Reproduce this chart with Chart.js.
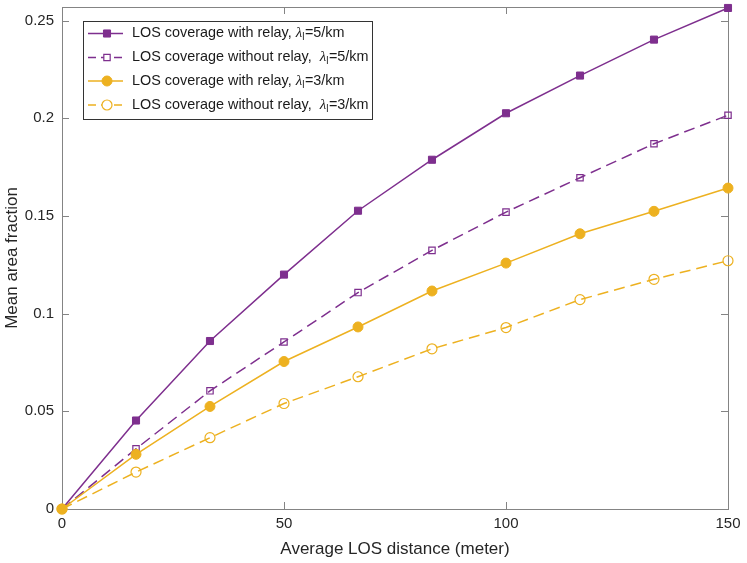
<!DOCTYPE html>
<html>
<head>
<meta charset="utf-8">
<script src="https://cdn.jsdelivr.net/npm/chart.js@4.4.1/dist/chart.umd.min.js"></script>
<style>
  html, body { margin: 0; padding: 0; background: #fff; }
</style>
</head>
<body>
<canvas id="myChart" width="747" height="563"></canvas>
<script>
// values
const distances = [0, 16.67, 33.33, 50, 66.67, 83.33, 100, 116.67, 133.33, 150]
const withRelay5 = [0, 0.0453, 0.0860, 0.1200, 0.1527, 0.1788, 0.2026, 0.2219, 0.2403, 0.2565]
const withoutRelay5 = [0, 0.0308, 0.0605, 0.0855, 0.1108, 0.1324, 0.1520, 0.1696, 0.1870, 0.2016]
const withRelay3 = [0, 0.0280, 0.0525, 0.0755, 0.0932, 0.1116, 0.1259, 0.1409, 0.1524, 0.1643]
const withoutRelay3 = [0, 0.0189, 0.0365, 0.0540, 0.0677, 0.0820, 0.0929, 0.1072, 0.1176, 0.1271]

const legendPrefix = ['LOS coverage with relay, ', 'LOS coverage without relay,  ', 'LOS coverage with relay, ', 'LOS coverage without relay,  ']
const legendSuffix = ['=5/km', '=5/km', '=3/km', '=3/km']
const xTicks = [0, 50, 100, 150]
const yTicks = [0, 0.05, 0.1, 0.15, 0.2, 0.25]

const purple = '#7E2F8E'
const orange = '#EDB120'
const font = "'Liberation Sans', Arial, Helvetica, sans-serif"

function toPoints(arr) {
    return arr.map((v, i) => ({ x: distances[i], y: v }))
}

const styles = [
    { color: purple, shape: 'rect', filled: true, dash: [], r: 5 },
    { color: purple, shape: 'rect', filled: false, dash: [11, 6], r: 4.5 },
    { color: orange, shape: 'circle', filled: true, dash: [], r: 5 },
    { color: orange, shape: 'circle', filled: false, dash: [11, 6], r: 5 }
]
const seriesData = [withRelay5, withoutRelay5, withRelay3, withoutRelay3]

const datasets = seriesData.map((d, i) => {
    const s = styles[i]
    return {
        label: legendPrefix[i] + 'λl' + legendSuffix[i],
        data: toPoints(d),
        borderColor: s.color,
        backgroundColor: s.color,
        borderWidth: 1.5,
        borderDash: s.dash,
        pointStyle: s.shape,
        pointRadius: s.r,
        pointHoverRadius: s.r,
        pointBorderWidth: s.filled ? 1 : 1.2,
        pointBorderColor: s.color,
        pointBackgroundColor: s.filled ? s.color : 'rgba(0,0,0,0)',
        tension: 0,
        fill: false,
        clip: false,
        order: 4 - i
    }
})

// axes box with inward ticks (MATLAB look)
const boxPlugin = {
    id: 'boxPlugin',
    beforeDatasetsDraw(chart) {
        const { ctx, chartArea: a, scales } = chart
        const x = scales.x, y = scales.y
        ctx.save()
        ctx.strokeStyle = '#848484'
        ctx.lineWidth = 1
        ctx.strokeRect(Math.round(a.left) + 0.5, Math.round(a.top) + 0.5,
            Math.round(a.right - a.left), Math.round(a.bottom - a.top))
        ctx.beginPath()
        const tl = 7
        xTicks.forEach(t => {
            const px = Math.round(x.getPixelForValue(t)) + 0.5
            ctx.moveTo(px, a.bottom); ctx.lineTo(px, a.bottom - tl)
            ctx.moveTo(px, a.top); ctx.lineTo(px, a.top + tl)
        })
        yTicks.forEach(t => {
            const py = Math.round(y.getPixelForValue(t)) + 0.5
            ctx.moveTo(a.left, py); ctx.lineTo(a.left + tl, py)
            ctx.moveTo(a.right, py); ctx.lineTo(a.right - tl, py)
        })
        ctx.stroke()
        ctx.restore()
    }
}

function drawMarker(ctx, s, cx, cy) {
    ctx.save()
    ctx.strokeStyle = s.color
    ctx.fillStyle = s.color
    ctx.lineWidth = s.filled ? 1 : 1.2
    ctx.setLineDash([])
    ctx.beginPath()
    if (s.shape === 'rect') {
        const h = Math.SQRT1_2 * s.r
        ctx.rect(cx - h, cy - h, 2 * h, 2 * h)
    } else {
        ctx.arc(cx, cy, s.r, 0, Math.PI * 2)
    }
    if (s.filled) ctx.fill()
    else { ctx.fillStyle = '#fff'; ctx.fill() }
    ctx.stroke()
    ctx.restore()
}

const legendPlugin = {
    id: 'legendPlugin',
    afterDatasetsDraw(chart) {
        const ctx = chart.ctx
        const bx = 83, by = 21, bw = 289, bh = 98
        ctx.save()
        ctx.fillStyle = '#fff'
        ctx.fillRect(bx, by, bw, bh)
        ctx.strokeStyle = '#333'
        ctx.lineWidth = 1
        ctx.strokeRect(bx + 0.5, by + 0.5, bw, bh)
        const rowY = [33.5, 57.5, 81, 105]
        styles.forEach((s, i) => {
            const yy = rowY[i]
            ctx.strokeStyle = s.color
            ctx.lineWidth = 1.5
            ctx.setLineDash(s.dash.length ? [8, 5] : [])
            ctx.beginPath()
            ctx.moveTo(88, yy); ctx.lineTo(123, yy)
            ctx.stroke()
            ctx.setLineDash([])
            drawMarker(ctx, s, 107, yy)

            ctx.fillStyle = '#1a1a1a'
            ctx.textBaseline = 'middle'
            ctx.textAlign = 'left'
            let tx = 132
            ctx.font = '14.4px ' + font
            ctx.fillText(legendPrefix[i], tx, yy)
            tx += ctx.measureText(legendPrefix[i]).width
            ctx.font = 'italic 15px "Liberation Serif", "DejaVu Serif", serif'
            ctx.fillText('λ', tx, yy)
            tx += ctx.measureText('λ').width
            ctx.font = '10px ' + font
            ctx.fillText('l', tx, yy + 4)
            tx += ctx.measureText('l').width + 0.5
            ctx.font = '14.4px ' + font
            ctx.fillText(legendSuffix[i], tx, yy)
        })
        ctx.restore()
    }
}

const ctx = document.getElementById('myChart').getContext('2d')
const myChart = new Chart(ctx, {
    type: 'line',
    data: { datasets: datasets },
    plugins: [boxPlugin, legendPlugin],
    options: {
        responsive: false,
        animation: false,
        devicePixelRatio: 1,
        layout: { padding: { top: 7, right: 19, left: 0, bottom: 0 } },
        plugins: {
            legend: { display: false },
            tooltip: { enabled: false }
        },
        scales: {
            x: {
                type: 'linear',
                min: 0,
                max: 150,
                afterBuildTicks: (scale) => { scale.ticks = xTicks.map(v => ({ value: v })) },
                afterFit: (scale) => {
                    scale.height = 54
                    scale.paddingLeft = 0
                    scale.paddingRight = 0
                },
                grid: { display: false, drawTicks: false },
                border: { display: false },
                ticks: {
                    padding: 6,
                    color: '#262626',
                    font: { family: font, size: 15 },
                    maxRotation: 0,
                    callback: (v) => String(v)
                },
                title: {
                    display: true,
                    text: 'Average LOS distance (meter)',
                    color: '#262626',
                    font: { family: font, size: 17 },
                    padding: { top: 0, bottom: 3 }
                }
            },
            y: {
                type: 'linear',
                min: 0,
                max: 0.257,
                afterBuildTicks: (scale) => { scale.ticks = yTicks.map(v => ({ value: v })) },
                afterFit: (scale) => {
                    scale.width = 62
                    scale.paddingTop = 0
                    scale.paddingBottom = 0
                },
                grid: { display: false, drawTicks: false },
                border: { display: false },
                ticks: {
                    padding: 8,
                    color: '#262626',
                    font: { family: font, size: 15 },
                    callback: (v) => String(v)
                },
                title: {
                    display: true,
                    text: 'Mean area fraction',
                    color: '#262626',
                    font: { family: font, size: 17 },
                    padding: { top: 2, bottom: 0 }
                }
            }
        }
    }
})
</script>
</body>
</html>
